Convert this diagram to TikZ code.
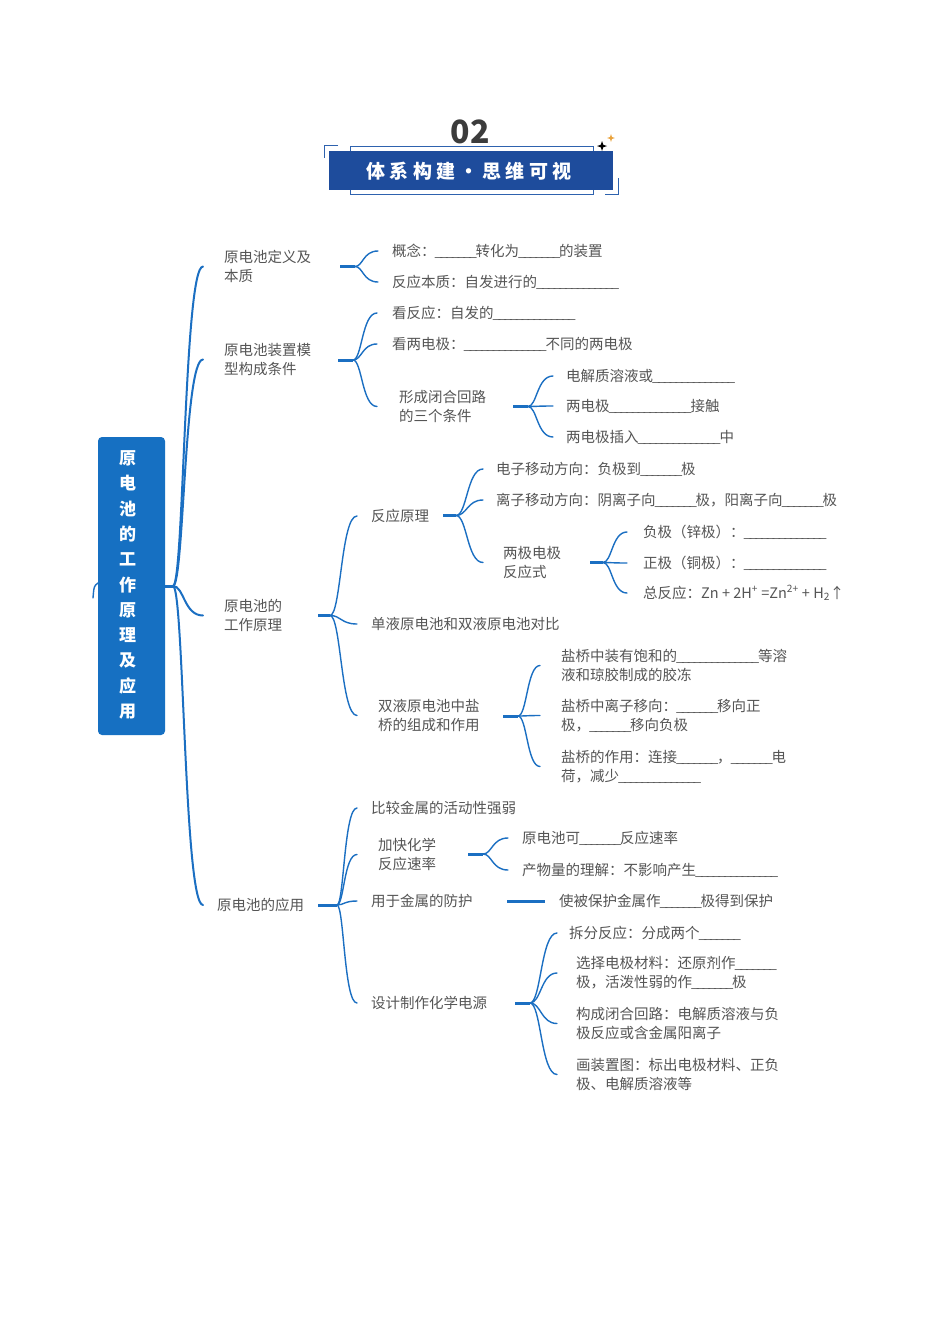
\documentclass[tikz,border=0pt]{standalone}
\usepackage{fontspec}
\setmainfont{Noto Sans CJK SC}
\usetikzlibrary{calc}
\definecolor{lineblue}{HTML}{1B6FC2}
\definecolor{boxblue}{HTML}{1670C2}
\definecolor{banner}{HTML}{1E4C9C}
\definecolor{frameblue}{HTML}{2E62AE}
\definecolor{txtgray}{HTML}{555555}
\definecolor{numgray}{HTML}{3C3C3C}
\definecolor{starorange}{HTML}{E9A23B}
\newcommand\blank[1]{\hbox to #1pt{\xleaders\hbox{\kern-1.2pt\_\kern-1.2pt}\hfil}}
\newcommand\bA{\blank{40}}
\newcommand\bB{\blank{81}}
\newcommand\ce[2]{\coordinate (#1-e) at ($(#1.west)+(#2,0)$);}
\newcommand\cv[3]{\draw[br] (#1) .. controls (#2 |- #1) and (#2 |- #3) .. (#3);}
\newcommand\cvm[3]{\draw[brm] (#1) .. controls (#2 |- #1) and (#2 |- #3) .. (#3);}
\newcommand\sparkle[4]{\fill[#4] (#1,#2-#3) -- (#1+0.25*#3,#2-0.25*#3) -- (#1+#3,#2) -- (#1+0.25*#3,#2+0.25*#3) -- (#1,#2+#3) -- (#1-0.25*#3,#2+0.25*#3) -- (#1-#3,#2) -- (#1-0.25*#3,#2-0.25*#3) -- cycle;}
\begin{document}
\begin{tikzpicture}[x=1pt,y=-1pt,
  t/.style={anchor=west, inner sep=0pt, text=txtgray, font=\fontsize{14.5}{19}\selectfont, align=left},
  br/.style={draw=lineblue, line width=1.4pt, line cap=round},
  brm/.style={draw=lineblue, line width=2pt, line cap=round},
  stem/.style={draw=lineblue, line width=3pt},
  frm/.style={draw=frameblue, line width=0.8pt}]
\useasboundingbox (0,0) rectangle (950,1344);
\fill[white] (0,0) rectangle (950,1344);
% header
\draw[frm] (350,146.5) rectangle (593,194);
\fill[banner] (329,151) rectangle (613,190);
\draw[frm] (338,145) -- (324,145) -- (324,158);
\draw[frm] (605,194) -- (618,194) -- (618,178);
\node[font=\fontsize{32}{32}\bfseries\selectfont, text=numgray, inner sep=0pt] (num) at (470,131.5) {02};
\node[font=\fontsize{19}{19}\bfseries\addfontfeature{LetterSpace=22}\selectfont, text=white, inner sep=0pt] (title) at (469,171) {体系构建・思维可视};
\sparkle{602}{146}{5}{black}
\sparkle{611}{138}{3.8}{starorange}
% root
\draw[br] (98,583) .. controls (94,586) .. (93,598);
\node[fill=boxblue, rounded corners=4pt, minimum width=67pt, minimum height=298pt, inner sep=0pt] (root) at (131.5,586) {};
\node[inner sep=0pt, text=white, font=\fontsize{17}{25.3}\bfseries\selectfont, align=center] (roottxt) at (127.5,585) {原\\电\\池\\的\\工\\作\\原\\理\\及\\应\\用};
% level 1
\node[t] (n1) at (224,266.5) {原电池定义及\\本质};
\node[t] (n2) at (224,359.5) {原电池装置模\\型构成条件};
\node[t] (n3) at (224,615.5) {原电池的\\工作原理};
\node[t] (n4) at (217,905) {原电池的应用};
\coordinate (J0) at (173,586); \coordinate (V0) at (184,0);
\draw[stem] (root.east) -- (J0);
\ce{n1}{-21} \ce{n2}{-21} \ce{n3}{-21} \ce{n4}{-14}
\cvm{J0}{V0}{n1-e} \cvm{J0}{V0}{n2-e} \cvm{J0}{V0}{n3-e} \cvm{J0}{V0}{n4-e}
% n1 branch
\node[t] (a1) at (392,251) {概念：\bA 转化为\bA 的装置};
\node[t] (a2) at (392,282) {反应本质：自发进行的\bB};
\coordinate (n1-s) at (340,266.5); \coordinate (J1) at (355,266.5); \coordinate (V1) at (363,0);
\draw[stem] (n1-s) -- (J1);
\ce{a1}{-14} \ce{a2}{-14}
\cv{J1}{V1}{a1-e} \cv{J1}{V1}{a2-e}
% n2 branch
\node[t] (b1) at (392,313) {看反应：自发的\bB};
\node[t] (b2) at (392,344) {看两电极：\bB 不同的两电极};
\node[t] (b3) at (399,406.5) {形成闭合回路\\的三个条件};
\coordinate (n2-s) at (338,360); \coordinate (J2) at (353,360); \coordinate (V2) at (362,0);
\draw[stem] (n2-s) -- (J2);
\ce{b1}{-15} \ce{b2}{-15} \ce{b3}{-22}
\cv{J2}{V2}{b1-e} \cv{J2}{V2}{b2-e} \cv{J2}{V2}{b3-e}
\node[t] (c1) at (566,376) {电解质溶液或\bB};
\node[t] (c2) at (566,406) {两电极\bB 接触};
\node[t] (c3) at (566,437) {两电极插入\bB 中};
\coordinate (b3-s) at (513,406.5); \coordinate (J5) at (528,406.5); \coordinate (V5) at (537,0);
\draw[stem] (b3-s) -- (J5);
\ce{c1}{-13} \ce{c2}{-13} \ce{c3}{-13}
\cv{J5}{V5}{c1-e} \cv{J5}{V5}{c2-e} \cv{J5}{V5}{c3-e}
% n3 branch
\node[t] (d1) at (371,516) {反应原理};
\node[t] (d2) at (371,624) {单液原电池和双液原电池对比};
\node[t] (d3) at (378,715.5) {双液原电池中盐\\桥的组成和作用};
\coordinate (n3-s) at (318,615.5); \coordinate (J3) at (330,615.5); \coordinate (V3) at (341,0);
\draw[stem] (n3-s) -- (J3);
\ce{d1}{-14} \ce{d2}{-14} \ce{d3}{-21}
\cv{J3}{V3}{d1-e} \cv{J3}{V3}{d2-e} \cv{J3}{V3}{d3-e}
\node[t] (e1) at (496,469) {电子移动方向：负极到\bA 极};
\node[t] (e2) at (496,500) {离子移动方向：阴离子向\bA 极，阳离子向\bA 极};
\node[t] (e3) at (503,562.5) {两极电极\\反应式};
\coordinate (d1-s) at (443,515.5); \coordinate (J6) at (456,515.5); \coordinate (V6) at (467,0);
\draw[stem] (d1-s) -- (J6);
\ce{e1}{-13} \ce{e2}{-13} \ce{e3}{-20}
\cv{J6}{V6}{e1-e} \cv{J6}{V6}{e2-e} \cv{J6}{V6}{e3-e}
\node[t] (f1) at (643,532) {负极（锌极）：\bB};
\node[t] (f2) at (643,563) {正极（铜极）：\bB};
\node[t] (f3) at (643,593) {总反应：Zn + 2H\textsuperscript{+} =Zn\textsuperscript{2+} + H\textsubscript{2}↑};
\coordinate (e3-s) at (590,562.5); \coordinate (J7) at (603,562.5); \coordinate (V7) at (612,0);
\draw[stem] (e3-s) -- (J7);
\ce{f1}{-16} \ce{f2}{-16} \ce{f3}{-16}
\cv{J7}{V7}{f1-e} \cv{J7}{V7}{f2-e} \cv{J7}{V7}{f3-e}
\node[t] (g1) at (561,665.5) {盐桥中装有饱和的\bB 等溶\\液和琼胶制成的胶冻};
\node[t] (g2) at (561,715.5) {盐桥中离子移向：\bA 移向正\\极，\bA 移向负极};
\node[t] (g3) at (561,766.5) {盐桥的作用：连接\bA，\bA 电\\荷，减少\bB};
\coordinate (d3-s) at (503,716); \coordinate (J8) at (518,716); \coordinate (V8) at (527,0);
\draw[stem] (d3-s) -- (J8);
\ce{g1}{-21} \ce{g2}{-21} \ce{g3}{-21}
\cv{J8}{V8}{g1-e} \cv{J8}{V8}{g2-e} \cv{J8}{V8}{g3-e}
% n4 branch
\node[t] (h1) at (371,808) {比较金属的活动性强弱};
\node[t] (h2) at (378,854.5) {加快化学\\反应速率};
\node[t] (h3) at (371,901) {用于金属的防护};
\node[t] (h4) at (371,1003) {设计制作化学电源};
\coordinate (n4-s) at (318,905); \coordinate (J4) at (337,905); \coordinate (V4) at (344,0);
\draw[stem] (n4-s) -- (J4);
\ce{h1}{-14} \ce{h2}{-21} \ce{h3}{-14} \ce{h4}{-14}
\cv{J4}{V4}{h1-e} \cv{J4}{V4}{h2-e} \cv{J4}{V4}{h3-e} \cv{J4}{V4}{h4-e}
\node[t] (i1) at (522,838) {原电池可\bA 反应速率};
\node[t] (i2) at (522,870) {产物量的理解：不影响产生\bB};
\coordinate (h2-s) at (468,854); \coordinate (J9) at (483,854); \coordinate (V9) at (492,0);
\draw[stem] (h2-s) -- (J9);
\ce{i1}{-14} \ce{i2}{-14}
\cv{J9}{V9}{i1-e} \cv{J9}{V9}{i2-e}
\node[t] (j1) at (559,901) {使被保护金属作\bA 极得到保护};
\coordinate (h3-s) at (507,901); \coordinate (j1-e) at ($(j1.west)+(-14,0)$);
\draw[stem] (h3-s) -- (j1-e);
\node[t] (k1) at (569,933) {拆分反应：分成两个\bA};
\node[t] (k2) at (576,973) {选择电极材料：还原剂作\bA\\极，活泼性弱的作\bA 极};
\node[t] (k3) at (576,1023.5) {构成闭合回路：电解质溶液与负\\极反应或含金属阳离子};
\node[t] (k4) at (576,1074.5) {画装置图：标出电极材料、正负\\极、电解质溶液等};
\coordinate (h4-s) at (515,1003); \coordinate (J10) at (530,1003); \coordinate (V10) at (541,0);
\draw[stem] (h4-s) -- (J10);
\ce{k1}{-12} \ce{k2}{-19} \ce{k3}{-19} \ce{k4}{-19}
\cv{J10}{V10}{k1-e} \cv{J10}{V10}{k2-e} \cv{J10}{V10}{k3-e} \cv{J10}{V10}{k4-e}
\end{tikzpicture}
\end{document}
